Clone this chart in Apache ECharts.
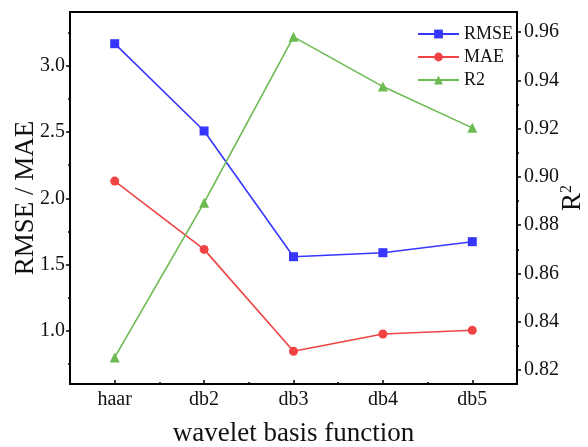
<!DOCTYPE html>
<html>
<head>
<meta charset="utf-8">
<script src="https://cdn.jsdelivr.net/npm/echarts@6/dist/echarts.min.js"></script>
<style>html,body{margin:0;padding:0;background:#fff;}#c{width:588px;height:447px;}</style>
</head>
<body>
<div id="c"></div>
<script>
const categories = ['haar', 'db2', 'db3', 'db4', 'db5'];
const rmse = [3.166, 2.508, 1.56, 1.59, 1.673];
const mae = [2.13, 1.615, 0.847, 0.977, 1.005];
const r2 = [0.8252, 0.8893, 0.958, 0.9374, 0.9203];
const leftTicks = [1.0, 1.5, 2.0, 2.5, 3.0];
const leftMinor = [0.75, 1.25, 1.75, 2.25, 2.75, 3.25];
const rightTicks = [0.82, 0.84, 0.86, 0.88, 0.90, 0.92, 0.94, 0.96];
const rightMinor = [0.83, 0.85, 0.87, 0.89, 0.91, 0.93, 0.95];

const FONT = 'Liberation Serif';
const chart = echarts.init(document.getElementById('c'));
const lineAx = { show: true, lineStyle: { color: '#000', width: 2 } };
chart.setOption({
  animation: false,
  backgroundColor: '#fff',
  textStyle: { fontFamily: FONT },
  grid: { left: 70, right: 71, top: 12, bottom: 63, containLabel: false, outerBoundsMode: 'none',
    show: true, borderColor: '#000', borderWidth: 2, backgroundColor: 'transparent' },
  legend: {
    orient: 'vertical', left: 412, top: 20, itemWidth: 41, itemHeight: 11, itemGap: 5,
    textStyle: { fontFamily: FONT, fontSize: 18, color: '#111' },
    data: ['RMSE', 'MAE', 'R2']
  },
  xAxis: [
    {
      type: 'category', data: categories, boundaryGap: true,
      axisLine: lineAx,
      axisTick: { show: true, alignWithLabel: true, inside: true, length: 4, lineStyle: { color: '#000', width: 1.5 } },
      axisLabel: { fontFamily: FONT, fontSize: 20, color: '#111', margin: 6 },
      name: 'wavelet basis function', nameLocation: 'middle', nameGap: 36, nameMoveOverlap: false,
      nameTextStyle: { fontFamily: FONT, fontSize: 27, color: '#111' }
    },
    {
      type: 'category', data: categories, boundaryGap: true, position: 'bottom',
      axisLine: { show: false },
      axisTick: { show: true, alignWithLabel: false, inside: true, length: 2, lineStyle: { color: '#000', width: 1.5 } },
      axisLabel: { show: false }
    }
  ],
  yAxis: [
    {
      type: 'value', position: 'left', min: 0.6, max: 3.405,
      axisLine: lineAx, splitLine: { show: false },
      axisTick: { show: true, customValues: leftTicks, length: 4, lineStyle: { color: '#000', width: 1.5 } },
      axisLabel: { customValues: leftTicks, formatter: v => v.toFixed(1), fontFamily: FONT, fontSize: 20, color: '#111', margin: 5 },
      name: 'RMSE / MAE', nameLocation: 'middle', nameGap: 31, nameMoveOverlap: false,
      nameTextStyle: { fontFamily: FONT, fontSize: 27, color: '#111' }
    },
    {
      type: 'value', position: 'right', min: 0.8142, max: 0.9683,
      axisLine: lineAx, splitLine: { show: false },
      axisTick: { show: true, customValues: rightTicks, length: 4, lineStyle: { color: '#000', width: 1.5 } },
      axisLabel: { customValues: rightTicks, formatter: v => v.toFixed(2), fontFamily: FONT, fontSize: 20, color: '#111', margin: 7 },
      name: 'R{s|2}', nameLocation: 'middle', nameGap: 42, nameMoveOverlap: false,
      nameTextStyle: { fontFamily: FONT, fontSize: 27, color: '#111',
        rich: { s: { fontFamily: FONT, fontSize: 16, color: '#111', verticalAlign: 'top', padding: [0, 0, 12, 0] } } }
    },
    {
      type: 'value', position: 'left', min: 0.6, max: 3.405,
      axisLine: { show: false }, splitLine: { show: false },
      axisTick: { show: true, customValues: leftMinor, length: 2, lineStyle: { color: '#000', width: 1.5 } },
      axisLabel: { show: false }
    },
    {
      type: 'value', position: 'right', min: 0.8142, max: 0.9683,
      axisLine: { show: false }, splitLine: { show: false },
      axisTick: { show: true, customValues: rightMinor, length: 2, lineStyle: { color: '#000', width: 1.5 } },
      axisLabel: { show: false }
    }
  ],
  series: [
    { name: 'RMSE', type: 'line', data: rmse, yAxisIndex: 0, symbol: 'rect', symbolSize: 9,
      lineStyle: { color: '#3636ff', width: 1.6 }, itemStyle: { color: '#3636ff' } },
    { name: 'MAE', type: 'line', data: mae, yAxisIndex: 0, symbol: 'circle', symbolSize: 9,
      lineStyle: { color: '#f04444', width: 1.6 }, itemStyle: { color: '#f04444' } },
    { name: 'R2', type: 'line', data: r2, yAxisIndex: 1, symbol: 'triangle', symbolSize: 10,
      lineStyle: { color: '#6cbb52', width: 1.6 }, itemStyle: { color: '#6cbb52' } }
  ]
});
</script>
</body>
</html>
